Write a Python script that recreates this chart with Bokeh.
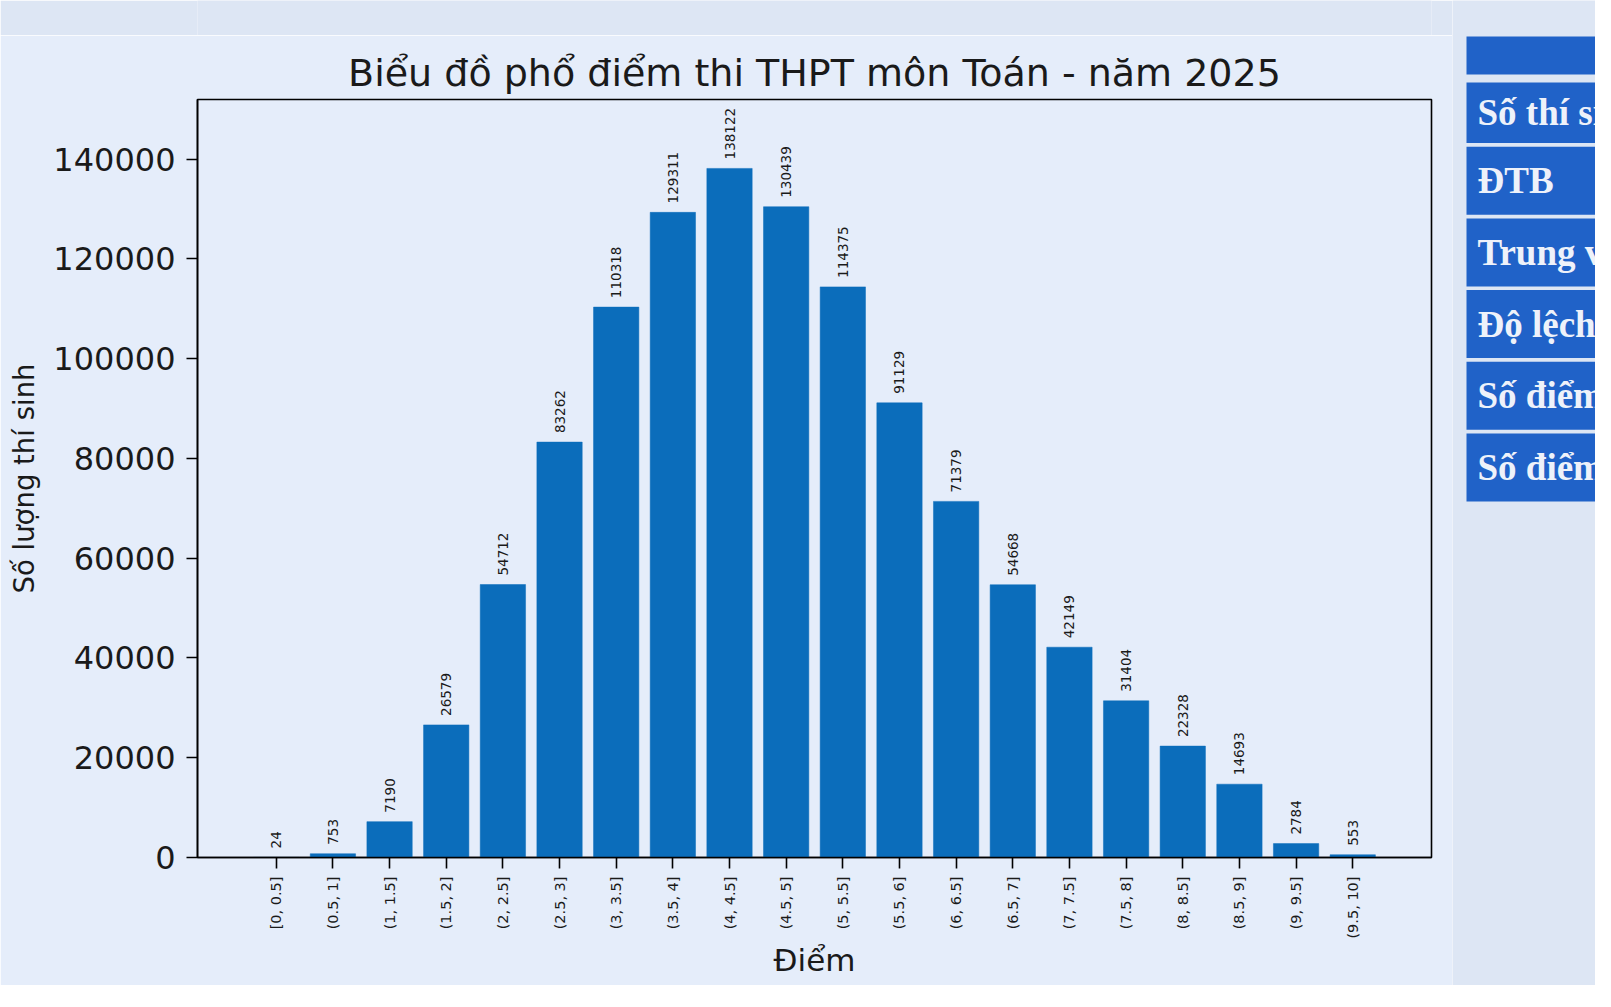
from math import pi
from bokeh.plotting import figure
from bokeh.models import (FactorRange, Range1d, FixedTicker, BasicTickFormatter,
                          ColumnDataSource, LabelSet)
from bokeh.layouts import row, column
from bokeh.core.properties import value
from bokeh.embed import file_html
from bokeh.resources import INLINE

# ---------------- data ----------------
bins = ["[0, 0.5]", "(0.5, 1]", "(1, 1.5]", "(1.5, 2]", "(2, 2.5]", "(2.5, 3]",
        "(3, 3.5]", "(3.5, 4]", "(4, 4.5]", "(4.5, 5]", "(5, 5.5]", "(5.5, 6]",
        "(6, 6.5]", "(6.5, 7]", "(7, 7.5]", "(7.5, 8]", "(8, 8.5]", "(8.5, 9]",
        "(9, 9.5]", "(9.5, 10]"]
counts = [24, 753, 7190, 26579, 54712, 83262, 110318, 129311, 138122, 130439,
          114375, 91129, 71379, 54668, 42149, 31404, 22328, 14693, 2784, 553]
y_ticks = [0, 20000, 40000, 60000, 80000, 100000, 120000, 140000]
title_text = "Biểu đồ phổ điểm thi THPT môn Toán - năm 2025"
x_label = "Điểm"
y_label = "Số lượng thí sinh"
table_rows = ["Số thí sinh", "ĐTB", "Trung vị", "Độ lệch chuẩn", "Số điểm", "Số điểm"]

# ---------------- style ----------------
PANEL = "#e5edfa"
OUTER = "#dde6f4"
BAR = "#0b6dbb"
TXT = "#1a1a1a"
TBL = "#2062c8"
TBL_TXT = "#eef2fa"
FONT = "DejaVu Sans"

src = ColumnDataSource(dict(cat=bins, count=counts, label=[str(c) for c in counts]))

MAIN_W, MAIN_H, STRIP_H = 1452, 950, 35
p = figure(width=MAIN_W, height=MAIN_H,
           x_range=FactorRange(factors=bins, range_padding=0.089),
           y_range=Range1d(0, max(counts) * 1.1),
           output_backend="svg", toolbar_location=None,
           min_border_left=197, min_border_right=21, min_border_top=64, min_border_bottom=128,
           background_fill_color=PANEL, border_fill_color=PANEL,
           outline_line_color="black", outline_line_width=1.6)

p.vbar(x="cat", top="count", width=0.8, source=src, fill_color=BAR, line_color=BAR, line_width=0.5)

labels = LabelSet(x="cat", y="count", text="label", source=src, angle=pi / 2,
                  text_align="left", text_baseline="middle", y_offset=9,
                  text_font=value(FONT), text_font_size=value("13.5px"), text_color=TXT)
p.add_layout(labels)

p.title.text = title_text
p.title.align = "center"
p.title.text_font = FONT
p.title.text_font_size = "38px"
p.title.text_font_style = "normal"
p.title.text_color = TXT
p.title.standoff = 9

p.xgrid.visible = False
p.ygrid.visible = False

for ax in (p.xaxis[0], p.yaxis[0]):
    ax.axis_line_color = "black"
    ax.axis_line_width = 1.6
    ax.major_tick_line_color = "black"
    ax.major_tick_line_width = 1.6
    ax.major_tick_in = 0
    ax.major_tick_out = 11
    ax.minor_tick_in = 0
    ax.minor_tick_out = 0
    ax.major_label_text_font = FONT
    ax.major_label_text_color = TXT
    ax.axis_label_text_font = FONT
    ax.axis_label_text_font_style = "normal"
    ax.axis_label_text_color = TXT

xa = p.xaxis[0]
xa.major_label_orientation = pi / 2
xa.major_label_text_font_size = "14.5px"
xa.major_label_standoff = 8
xa.axis_label = x_label
xa.axis_label_text_font_size = "31px"
xa.axis_label_standoff = 0

ya = p.yaxis[0]
ya.ticker = FixedTicker(ticks=y_ticks)
ya.formatter = BasicTickFormatter(use_scientific=False)
ya.major_label_text_font_size = "32px"
ya.major_label_standoff = 11
ya.axis_label = y_label
ya.axis_label_text_font_size = "27.5px"
ya.axis_label_standoff = 10

# top strip (outer background)
strip = figure(width=MAIN_W, height=STRIP_H, output_backend="svg", toolbar_location=None,
               min_border=0, x_axis_location=None, y_axis_location=None,
               background_fill_color=OUTER, border_fill_color=OUTER, outline_line_color=None)
strip.grid.visible = False
strip.scatter([0], [0], alpha=0)

# right-side table
T_W, T_H = 143, 985
t = figure(width=T_W, height=T_H, output_backend="svg", toolbar_location=None,
           x_range=Range1d(0, T_W), y_range=Range1d(T_H, 0),
           min_border=0, x_axis_location=None, y_axis_location=None,
           background_fill_color=OUTER, border_fill_color=OUTER, outline_line_color=None)
t.grid.visible = False

box_left, text_left = 14, 25
row_step, row_h, first_top = 71.7, 68, 74.5
tops = [first_top + i * row_step for i in range(len(table_rows))]
bots = [tp + row_h for tp in tops]
tops[0] += 7.5
t.quad(left=[box_left], right=[T_W + 10], top=[36], bottom=[74], fill_color=TBL, line_color=None)
t.quad(left=[box_left] * len(tops), right=[T_W + 10] * len(tops), top=tops, bottom=bots,
       fill_color=TBL, line_color=None)
t.text(x=[text_left] * len(tops), y=[(a + b) / 2 for a, b in zip(tops, bots)], text=table_rows,
       text_font=value("Liberation Serif"), text_font_style="bold",
       text_font_size=value("37px"), text_color=TBL_TXT,
       text_baseline="middle", text_align="left")

layout = row(column(strip, p), t)

open("out.html", "w").write(file_html(layout, INLINE))
